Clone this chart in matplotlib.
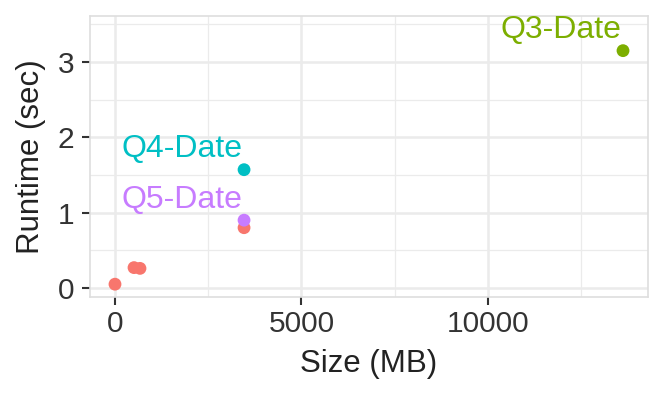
import numpy as np
import matplotlib.pyplot as plt

plt.rcParams['font.family'] = ['Liberation Sans', 'DejaVu Sans']

# Datos.
tamanos = [0, 510, 670, 3460, 3460, 3460, 13620]
tiempos = [0.05, 0.27, 0.26, 0.80, 0.90, 1.57, 3.15]
consultas = ['otro', 'otro', 'otro', 'otro', 'Q5-Date', 'Q4-Date', 'Q3-Date']

colores = {'otro': '#F8766D', 'Q3-Date': '#7CAE00',
           'Q4-Date': '#00BFC4', 'Q5-Date': '#C77CFF'}

fig = plt.figure(figsize=(6.64, 3.99), dpi=100)
ax = fig.add_axes([90/664, 1 - 297/399, (648-90)/664, (297-16)/399])

ax.set_xlim(-670, 14290)
ax.set_ylim(-0.12, 3.61)

# Rejilla estilo ggplot.
ax.set_xticks([0, 5000, 10000])
ax.set_yticks([0, 1, 2, 3])
ax.set_xticks([2500, 7500, 12500], minor=True)
ax.set_yticks([0.5, 1.5, 2.5, 3.5], minor=True)
ax.grid(which='major', color='#EBEBEB', linewidth=1.8)
ax.grid(which='minor', color='#EBEBEB', linewidth=0.9)
ax.set_axisbelow(True)
for s in ax.spines.values():
    s.set_color('#DEDEDE')
    s.set_linewidth(1.2)

ax.tick_params(which='major', length=5.5, width=1.5, color='#333333',
               labelsize=21.5, labelcolor='#333333')
ax.tick_params(axis='y', pad=6)
ax.tick_params(axis='x', pad=4)
ax.tick_params(which='minor', length=0)

for x, y, c in zip(tamanos, tiempos, consultas):
    ax.scatter(x, y, s=85, color=colores[c], edgecolors='none', zorder=3)
    if c != 'otro':
        ax.annotate(c, (x, y), xytext=(-1, 9), textcoords='offset points',
                    ha='right', va='baseline', fontsize=23, color=colores[c])

ax.set_xlabel('Size (MB)', fontsize=22.5, color='#222222', labelpad=8)
ax.set_ylabel('Runtime (sec)', fontsize=22.5, color='#222222', labelpad=8)

fig.savefig('out.png', dpi=100)
